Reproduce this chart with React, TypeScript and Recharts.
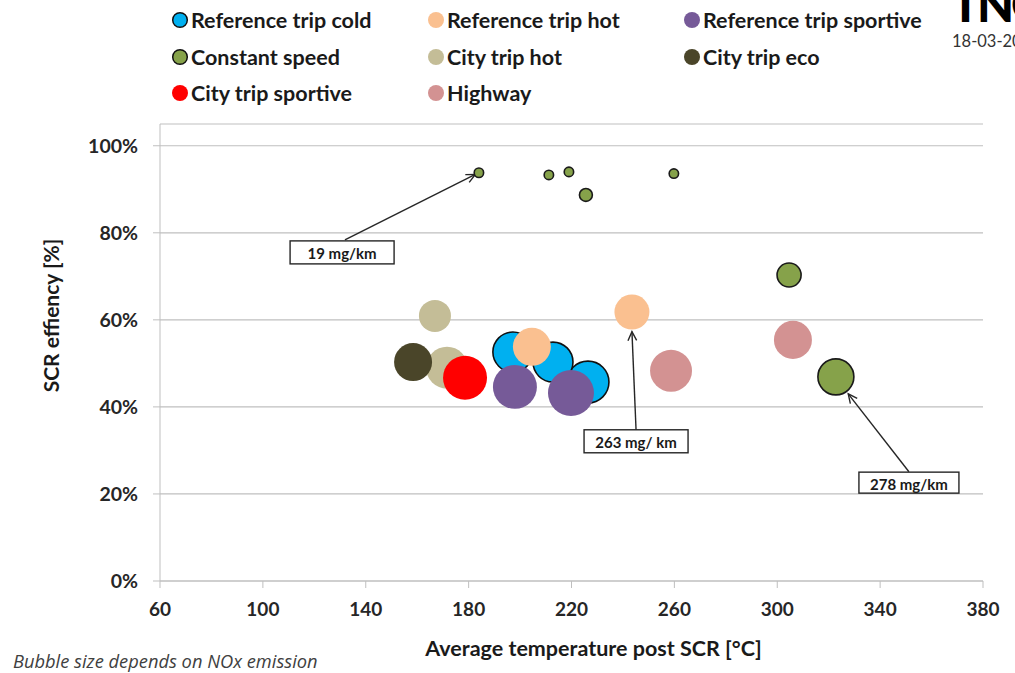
import React from 'react';
import {
  ScatterChart,
  Scatter,
  XAxis,
  YAxis,
  ZAxis,
  CartesianGrid,
  ReferenceLine,
  ReferenceDot,
  Label,
} from 'recharts';

const FONT = 'Lato, "Open Sans", "DejaVu Sans", sans-serif';

// ---------- data ----------
const seriesNames = [
  'Reference trip cold',
  'Reference trip hot',
  'Reference trip sportive',
  'Constant speed',
  'City trip hot',
  'City trip eco',
  'City trip sportive',
  'Highway',
];

// temperature [°C]
const refColdTemp = [226.4, 197.2, 212.8];
const refHotTemp = [204.6, 243.5];
const refSportTemp = [198.0, 219.8];
const constantTemp = [184.0, 211.2, 219.0, 225.6, 259.8, 304.6, 322.8];
const cityHotTemp = [166.9, 171.6];
const cityEcoTemp = [158.4];
const citySportTemp = [178.6];
const highwayTemp = [258.7, 306.1];

// SCR efficiency [%]
const refColdEff = [45.7, 52.6, 50.3];
const refHotEff = [53.8, 61.8];
const refSportEff = [44.6, 43.2];
const constantEff = [93.8, 93.3, 94.0, 88.7, 93.6, 70.3, 46.9];
const cityHotEff = [60.9, 49.0];
const cityEcoEff = [50.3];
const citySportEff = [46.7];
const highwayEff = [48.3, 55.4];

// NOx emission [mg/km] (bubble size)
const refColdNox = [378, 343, 343];
const refHotNox = [310, 263];
const refSportNox = [415, 454];
const constantNox = [19, 19, 19, 36, 19, 124, 278];
const cityHotNox = [220, 378];
const cityEcoNox = [310];
const citySportNox = [415];
const highwayNox = [378, 310];

const xTicks = [60, 100, 140, 180, 220, 260, 300, 340, 380];
const yTicks = [0, 20, 40, 60, 80, 100];

// annotations
const annotationTexts = ['19 mg/km', '263 mg/ km', '278 mg/km'];
const annotationBoxTemp = [130.8, 245.1, 351.2];
const annotationBoxEff = [75.5, 32.1, 22.6];
const arrowStartTemp = [131.9, 245.1, 351.2];
const arrowStartEff = [78.4, 34.7, 25.1];
const arrowEndTemp = [182.6, 243.5, 327.6];
const arrowEndEff = [93.4, 57.3, 43.0];

// ---------- styles ----------
const seriesFill = ['#00B0F0', '#FAC090', '#765A98', '#86A24A', '#C4BD97', '#4A4529', '#FF0000', '#D39292'];
const seriesStroke = ['#111111', 'none', 'none', '#1a1a1a', 'none', 'none', 'none', 'none'];

const build = (xs: number[], ys: number[], zs: number[]) =>
  xs.map((x, i) => ({ x, y: ys[i], z: zs[i] }));

const seriesData = [
  build(refColdTemp, refColdEff, refColdNox),
  build(refHotTemp, refHotEff, refHotNox),
  build(refSportTemp, refSportEff, refSportNox),
  build(constantTemp, constantEff, constantNox),
  build(cityHotTemp, cityHotEff, cityHotNox),
  build(cityEcoTemp, cityEcoEff, cityEcoNox),
  build(citySportTemp, citySportEff, citySportNox),
  build(highwayTemp, highwayEff, highwayNox),
];

const ArrowShape = (props: any) => {
  const { x1, y1, x2, y2 } = props;
  if ([x1, y1, x2, y2].some((v) => v == null || isNaN(v))) return null;
  const ang = Math.atan2(y2 - y1, x2 - x1);
  const len = 10;
  const spread = Math.PI / 7;
  const ax = x2 - len * Math.cos(ang - spread);
  const ay = y2 - len * Math.sin(ang - spread);
  const bx = x2 - len * Math.cos(ang + spread);
  const by = y2 - len * Math.sin(ang + spread);
  return (
    <g>
      <line x1={x1} y1={y1} x2={x2} y2={y2} stroke="#262626" strokeWidth={1.4} />
      <path d={`M${ax},${ay} L${x2},${y2} L${bx},${by}`} fill="none" stroke="#262626" strokeWidth={1.4} />
    </g>
  );
};

const makeBox = (text: string, w: number, h: number) => (props: any) => {
  const { cx, cy } = props;
  if (cx == null || cy == null) return null;
  return (
    <g>
      <rect x={cx - w / 2} y={cy - h / 2} width={w} height={h} fill="#ffffff" stroke="#262626" strokeWidth={1.4} />
      <text
        x={cx}
        y={cy + 1}
        textAnchor="middle"
        dominantBaseline="central"
        fontFamily={FONT}
        fontWeight={700}
        fontSize={15}
        fill="#1a1a1a"
      >
        {text}
      </text>
    </g>
  );
};
const boxW = [104, 104, 100];
const boxH = [23, 23, 21];

const LegendBlock = () => (
  <div style={{ position: 'absolute', left: 0, top: 0, width: 940, height: 112 }}>
    {seriesNames.map((name, i) => {
      const col = i % 3;
      const row = Math.floor(i / 3);
      const left = 171 + col * 256;
      const top = 20 + row * 36.5;
      return (
        <div
          key={name}
          style={{
            position: 'absolute',
            left,
            top: top - 15,
            height: 30,
            display: 'flex',
            alignItems: 'center',
            whiteSpace: 'nowrap',
          }}
        >
          <svg width={18} height={18} style={{ marginRight: 2 }}>
            <circle
              cx={9}
              cy={9}
              r={seriesStroke[i] === 'none' ? 8 : 7.3}
              fill={seriesFill[i]}
              stroke={seriesStroke[i] === 'none' ? 'none' : '#111'}
              strokeWidth={1.5}
            />
          </svg>
          <span style={{ fontFamily: FONT, fontWeight: 700, fontSize: 21.5, color: '#1a1a1a' }}>{name}</span>
        </div>
      );
    })}
  </div>
);

export default function App() {
  return (
    <div
      style={{
        position: 'absolute',
        left: 0,
        top: 0,
        width: 1015,
        height: 673,
        overflow: 'hidden',
        background: '#ffffff',
      }}
    >
      <LegendBlock />
      <div
        style={{
          position: 'absolute',
          left: 951,
          top: -20,
          fontFamily: 'Lato, sans-serif',
          fontWeight: 900,
          fontSize: 48,
          lineHeight: '48px',
          color: '#000',
          letterSpacing: -3,
        }}
      >
        TNO
      </div>
      <div
        style={{
          position: 'absolute',
          left: 952,
          top: 31,
          fontFamily: FONT,
          fontSize: 16.5,
          color: '#333',
          whiteSpace: 'nowrap',
        }}
      >
        18-03-2015
      </div>
      <div
        style={{
          position: 'absolute',
          left: 13,
          top: 648,
          fontFamily: '"Open Sans", Lato, sans-serif',
          fontStyle: 'italic',
          fontSize: 18.3,
          color: '#404040',
          whiteSpace: 'nowrap',
        }}
      >
        Bubble size depends on NOx emission
      </div>
      <div style={{ position: 'absolute', left: 0, top: 0 }}>
        <ScatterChart width={1015} height={673} margin={{ top: 124, right: 32, bottom: 0, left: 0 }}>
          <CartesianGrid horizontal vertical={false} stroke="#BFBFBF" strokeWidth={1.2} />
          <XAxis
            type="number"
            dataKey="x"
            domain={[60, 380]}
            ticks={xTicks}
            interval={0}
            height={92}
            stroke="#BFBFBF"
            tickSize={7}
            tickMargin={15}
            tick={{ fontFamily: FONT, fontWeight: 700, fontSize: 19, fill: '#262626' }}
            allowDataOverflow
          >
            <Label
              content={(p: any) => {
                const vb = p.viewBox || {};
                return (
                  <text
                    x={vb.x + vb.width / 2 + 22}
                    y={vb.y + 67}
                    textAnchor="middle"
                    dominantBaseline="central"
                    fontFamily={FONT}
                    fontWeight={700}
                    fontSize={21.5}
                    fill="#1a1a1a"
                  >
                    Average temperature post SCR [°C]
                  </text>
                );
              }}
            />
          </XAxis>
          <YAxis
            type="number"
            dataKey="y"
            domain={[0, 105]}
            ticks={yTicks}
            interval={0}
            width={160}
            stroke="#BFBFBF"
            tickSize={7}
            tickMargin={15}
            tickFormatter={(v: number) => `${v}%`}
            tick={{ fontFamily: FONT, fontWeight: 700, fontSize: 19.5, fill: '#262626' }}
            allowDataOverflow
          >
            <Label
              content={(p: any) => {
                const vb = p.viewBox || {};
                const x = vb.x + 50;
                const y = vb.y + vb.height / 2 - 37;
                return (
                  <text
                    x={x}
                    y={y}
                    transform={`rotate(-90, ${x}, ${y})`}
                    textAnchor="middle"
                    dominantBaseline="central"
                    fontFamily={FONT}
                    fontWeight={700}
                    fontSize={21}
                    fill="#1a1a1a"
                  >
                    SCR effiency [%]
                  </text>
                );
              }}
            />
          </YAxis>
          <ZAxis type="number" dataKey="z" domain={[0, 500]} range={[0, 1830]} />
          {seriesNames.map((name, i) => (
            <Scatter
              key={name}
              name={name}
              data={seriesData[i]}
              fill={seriesFill[i]}
              stroke={seriesStroke[i]}
              strokeWidth={seriesStroke[i] === 'none' ? 0 : 1.6}
              isAnimationActive={false}
            />
          ))}
          {annotationTexts.map((t, i) => (
            <ReferenceLine
              key={'arr' + i}
              segment={[
                { x: arrowStartTemp[i], y: arrowStartEff[i] },
                { x: arrowEndTemp[i], y: arrowEndEff[i] },
              ]}
              ifOverflow="visible"
              shape={ArrowShape}
            />
          ))}
          {annotationTexts.map((t, i) => (
            <ReferenceDot
              key={'box' + i}
              x={annotationBoxTemp[i]}
              y={annotationBoxEff[i]}
              r={1}
              ifOverflow="visible"
              shape={makeBox(t, boxW[i], boxH[i])}
            />
          ))}
        </ScatterChart>
      </div>
    </div>
  );
}
